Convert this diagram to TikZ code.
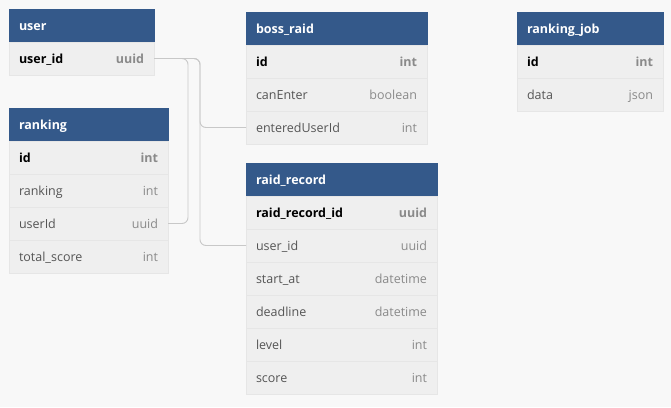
\documentclass[tikz,border=0pt]{standalone}
\usepackage{fontspec}
\setmainfont{Open Sans}
\usepackage{xcolor}
\usepackage{tikz}
\usetikzlibrary{positioning}

\definecolor{hdrblue}{HTML}{34598A}
\definecolor{rowgray}{HTML}{EFEFEF}
\definecolor{rowline}{HTML}{E6E6E6}
\definecolor{namegray}{HTML}{555555}
\definecolor{typegray}{HTML}{8A8A8A}
\definecolor{linkgray}{HTML}{C8C8C8}
\definecolor{bggray}{HTML}{F8F8F8}

% column type, pushed to the right edge of the row
\newcommand{\coltype}[1]{\hskip0pt plus1fill\textcolor{typegray}{#1}}

\begin{document}
\begin{tikzpicture}[x=1pt, y=-1pt,
    hdr/.style={fill=hdrblue, draw=hdrblue, text=white, font=\fontsize{12.5}{14}\selectfont\bfseries, anchor=north west,
      text width=#1, minimum height=33pt, inner xsep=10pt, inner ysep=0pt, text height=11pt, text depth=2pt, outer sep=0pt},
    field/.style={fill=rowgray, draw=rowline, text=namegray, font=\fontsize{12.5}{14}\selectfont,
      text width=#1, minimum height=33pt, inner xsep=10pt, inner ysep=0pt, text height=11pt, text depth=2pt, outer sep=0pt},
    keyfield/.style={field=#1, text=black, font=\fontsize{12.5}{14}\selectfont\bfseries},
    link/.style={draw=linkgray, line width=0.9pt, rounded corners=6pt}
  ]
    \fill[bggray] (0,0) rectangle (671,407);

    % user
    \node[hdr=125pt] (user) at (9,9) {user};
    \node[keyfield=125pt, below=0pt of user] (user-id) {user\_id\coltype{uuid}};

    % ranking
    \node[hdr=139pt] (ranking) at (9,108) {ranking};
    \node[keyfield=139pt, below=0pt of ranking] (ranking-id) {id\coltype{int}};
    \node[field=139pt, below=0pt of ranking-id] (ranking-rank) {ranking\coltype{int}};
    \node[field=139pt, below=0pt of ranking-rank] (ranking-userid) {userId\coltype{uuid}};
    \node[field=139pt, below=0pt of ranking-userid] (ranking-score) {total\_score\coltype{int}};

    % boss_raid
    \node[hdr=161pt] (boss) at (246,12) {boss\_raid};
    \node[keyfield=161pt, below=0pt of boss] (boss-id) {id\coltype{int}};
    \node[field=161pt, below=0pt of boss-id] (boss-enter) {canEnter\coltype{boolean}};
    \node[field=161pt, below=0pt of boss-enter] (boss-entered) {enteredUserId\coltype{int}};

    % raid_record
    \node[hdr=171pt] (record) at (246,163) {raid\_record};
    \node[keyfield=171pt, below=0pt of record] (record-id) {raid\_record\_id\coltype{uuid}};
    \node[field=171pt, below=0pt of record-id] (record-userid) {user\_id\coltype{uuid}};
    \node[field=171pt, below=0pt of record-userid] (record-start) {start\_at\coltype{datetime}};
    \node[field=171pt, below=0pt of record-start] (record-deadline) {deadline\coltype{datetime}};
    \node[field=171pt, below=0pt of record-deadline] (record-level) {level\coltype{int}};
    \node[field=171pt, below=0pt of record-level] (record-score) {score\coltype{int}};

    % ranking_job
    \node[hdr=126pt] (job) at (517,12) {ranking\_job};
    \node[keyfield=126pt, below=0pt of job] (job-id) {id\coltype{int}};
    \node[field=126pt, below=0pt of job-id] (job-data) {data\coltype{json}};

    % relations
    \draw[link] (user-id.east) -- ++(34,0) |- (ranking-userid.east);
    \draw[link] (user-id.east) -- ++(46,0) |- (boss-entered.west);
    \draw[link] (user-id.east) -- ++(46,0) |- (record-userid.west);
  \end{tikzpicture}
\end{document}
